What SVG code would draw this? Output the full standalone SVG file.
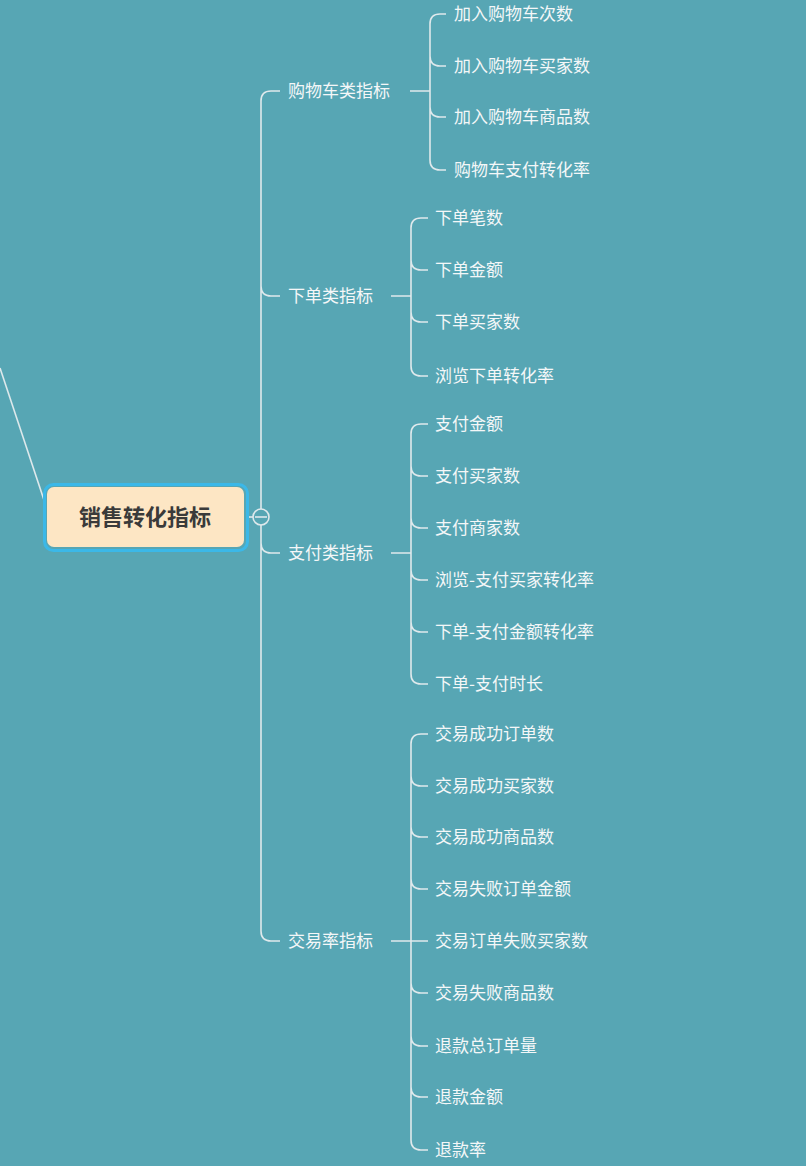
<svg xmlns="http://www.w3.org/2000/svg" width="806" height="1166" viewBox="0 0 806 1166">
<style>
.l{fill:none;stroke:#dfe9ec;stroke-width:1.6}
.t{font-family:"Noto Sans CJK SC","Noto Sans",sans-serif;font-size:17px;fill:#f4f7f8}
</style>
<rect width="806" height="1166" fill="#57a6b4"/>
<g id="connectors">
<path class="l" d="M0,368 L44,500"/>
<path class="l" d="M247,517 H253"/>
<path class="l" d="M280,91 H271 Q261,91 261,101 V509 M261,525 V931 Q261,941 271,941 H280 M261,286 Q261,296 271,296 H280 M261,543 Q261,553 271,553 H280"/>
<path class="l" d="M410,91 H430 M446,14 H440 Q430,14 430,24 V160 Q430,170 440,170 H446 M430,56 Q430,66 440,66 H446 M430,107 Q430,117 440,117 H446"/>
<path class="l" d="M391,296 H411 M428,218 H421 Q411,218 411,228 V366 Q411,376 421,376 H428 M411,260 Q411,270 421,270 H428 M411,312 Q411,322 421,322 H428"/>
<path class="l" d="M391,553 H411 M428,424 H421 Q411,424 411,434 V674 Q411,684 421,684 H428 M411,466 Q411,476 421,476 H428 M411,518 Q411,528 421,528 H428 M411,570 Q411,580 421,580 H428 M411,622 Q411,632 421,632 H428"/>
<path class="l" d="M391,941 H411 M428,734 H421 Q411,734 411,744 V1140 Q411,1150 421,1150 H428 M411,776 Q411,786 421,786 H428 M411,827 Q411,837 421,837 H428 M411,879 Q411,889 421,889 H428 M411,941 H428 M411,983 Q411,993 421,993 H428 M411,1036 Q411,1046 421,1046 H428 M411,1087 Q411,1097 421,1097 H428"/>
<circle cx="261" cy="517" r="8" fill="#57a6b4" stroke="#dfe9ec" stroke-width="1.6"/>
<path class="l" d="M255,517 H267"/>
</g>
<g id="root">
<rect x="44.5" y="484.5" width="203" height="66" rx="9" fill="none" stroke="#3bb8e8" stroke-width="3"/>
<rect x="47" y="487" width="197" height="60" rx="7" fill="#fde6c4"/>
<text x="145" y="525" text-anchor="middle" style="font-family:'Noto Sans CJK SC',sans-serif;font-size:22px;font-weight:bold;fill:#3a3a3a">销售转化指标</text>
</g>
<g id="b1"><text class="t" x="288" y="97">购物车类指标</text></g>
<g id="b2"><text class="t" x="288" y="302">下单类指标</text></g>
<g id="b3"><text class="t" x="288" y="559">支付类指标</text></g>
<g id="b4"><text class="t" x="288" y="947">交易率指标</text></g>
<g id="leaves1">
<text class="t" x="454" y="20">加入购物车次数</text>
<text class="t" x="454" y="72">加入购物车买家数</text>
<text class="t" x="454" y="123">加入购物车商品数</text>
<text class="t" x="454" y="176">购物车支付转化率</text>
</g>
<g id="leaves2">
<text class="t" x="435" y="224">下单笔数</text>
<text class="t" x="435" y="276">下单金额</text>
<text class="t" x="435" y="328">下单买家数</text>
<text class="t" x="435" y="382">浏览下单转化率</text>
</g>
<g id="leaves3">
<text class="t" x="435" y="430">支付金额</text>
<text class="t" x="435" y="482">支付买家数</text>
<text class="t" x="435" y="534">支付商家数</text>
<text class="t" x="435" y="586">浏览-支付买家转化率</text>
<text class="t" x="435" y="638">下单-支付金额转化率</text>
<text class="t" x="435" y="690">下单-支付时长</text>
</g>
<g id="leaves4">
<text class="t" x="435" y="740">交易成功订单数</text>
<text class="t" x="435" y="792">交易成功买家数</text>
<text class="t" x="435" y="843">交易成功商品数</text>
<text class="t" x="435" y="895">交易失败订单金额</text>
<text class="t" x="435" y="947">交易订单失败买家数</text>
<text class="t" x="435" y="999">交易失败商品数</text>
<text class="t" x="435" y="1052">退款总订单量</text>
<text class="t" x="435" y="1103">退款金额</text>
<text class="t" x="435" y="1156">退款率</text>
</g>
</svg>
